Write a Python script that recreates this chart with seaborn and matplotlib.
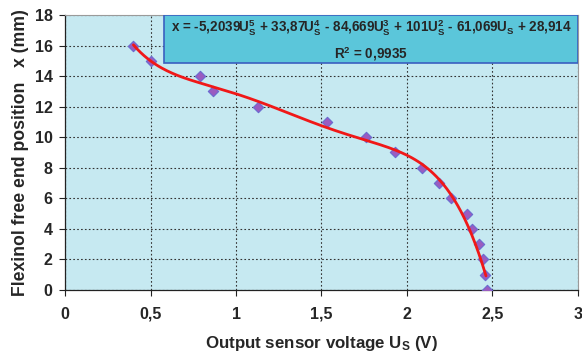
import numpy as np
import pandas as pd
import matplotlib
matplotlib.use("Agg")
import matplotlib.pyplot as plt
import seaborn as sns

# measured points (voltage Us, position x)
us_vals = [0.40, 0.50, 0.79, 0.865, 1.13, 1.53, 1.76, 1.93, 2.09, 2.19, 2.257, 2.349, 2.378, 2.423, 2.444, 2.458, 2.466]
x_vals = [16, 15, 14, 13, 12, 11, 10, 9, 8, 7, 6, 5, 4, 3, 2, 1, 0]

# 5th order trend line coefficients (highest power first)
coefs = [-5.2039, 33.87, -84.669, 101, -61.069, 28.914]
r2_text = "0,9935"

xticks = [0, 0.5, 1, 1.5, 2, 2.5, 3]
xtick_labels = ["0", "0,5", "1", "1,5", "2", "2,5", "3"]
yticks = [0, 2, 4, 6, 8, 10, 12, 14, 16, 18]

sns.set_style("ticks")
plt.rcParams["font.family"] = ["Liberation Sans", "DejaVu Sans"]
plt.rcParams["font.weight"] = "bold"
plt.rcParams["mathtext.fontset"] = "custom"
plt.rcParams["mathtext.rm"] = "Liberation Sans:bold"
plt.rcParams["mathtext.it"] = "Liberation Sans:bold"
plt.rcParams["mathtext.bf"] = "Liberation Sans:bold"
plt.rcParams["mathtext.default"] = "rm"

df = pd.DataFrame({"Us": us_vals, "x": x_vals})
u_fit = np.linspace(min(us_vals), 2.462, 200)
df_fit = pd.DataFrame({"Us": u_fit, "x": np.polyval(coefs, u_fit)})

fig = plt.figure(figsize=(5.82, 3.57), dpi=100)
ax = fig.add_axes([0.1117, 0.1877, 0.8814, 0.7703])
ax.set_facecolor("#c6e9f1")

ax.grid(True, color="#333333", linestyle=(0, (1.5, 2)), linewidth=0.8)
ax.set_axisbelow(True)

sns.scatterplot(data=df, x="Us", y="x", marker="D", s=28, color="#9a5cc0",
                edgecolor="#6a6ad0", linewidth=0.8, ax=ax, zorder=3)
sns.lineplot(data=df_fit, x="Us", y="x", color="#f01818", linewidth=2, ax=ax, zorder=4)

ax.set_xlim(0, 3)
ax.set_ylim(0, 18)
ax.set_xticks(xticks)
ax.set_xticklabels(xtick_labels)
ax.set_yticks(yticks)
ax.tick_params(axis="both", labelsize=11.5, length=4, width=0.8, color="#222222")
ax.tick_params(axis="x", direction="out", pad=8)
ax.tick_params(axis="y", pad=5)
for lab in ax.get_xticklabels() + ax.get_yticklabels():
    lab.set_fontweight("bold")

for side in ["left", "bottom"]:
    ax.spines[side].set_color("#222222")
    ax.spines[side].set_linewidth(0.9)
for side in ["top", "right"]:
    ax.spines[side].set_visible(True)
    ax.spines[side].set_color("#9a9a9a")
    ax.spines[side].set_linewidth(0.8)

ax.set_xlabel("Output sensor voltage U$_S$ (V)", fontsize=12.2, fontweight="bold", labelpad=9)
ax.set_ylabel("Flexinol free end position   x (mm)", fontsize=12.7, fontweight="bold", labelpad=4)

eq = ("x = -5,2039U$_S^5$ + 33,87U$_S^4$ - 84,669U$_S^3$ + 101U$_S^2$"
      " - 61,069U$_S$ + 28,914\nR$^2$ = " + r2_text)
ax.text(0.5965, 0.909, eq, transform=ax.transAxes, ha="center", va="center",
        fontsize=9.75, fontweight="bold", multialignment="center", zorder=6,
        linespacing=1.45)
box = plt.Rectangle((0.1935, 0.825), 0.8065, 0.175, transform=ax.transAxes,
                    facecolor="#5bc6da", edgecolor="#3a5fc0", linewidth=1.2, zorder=5)
ax.add_patch(box)

fig.savefig("out.png", dpi=100)
